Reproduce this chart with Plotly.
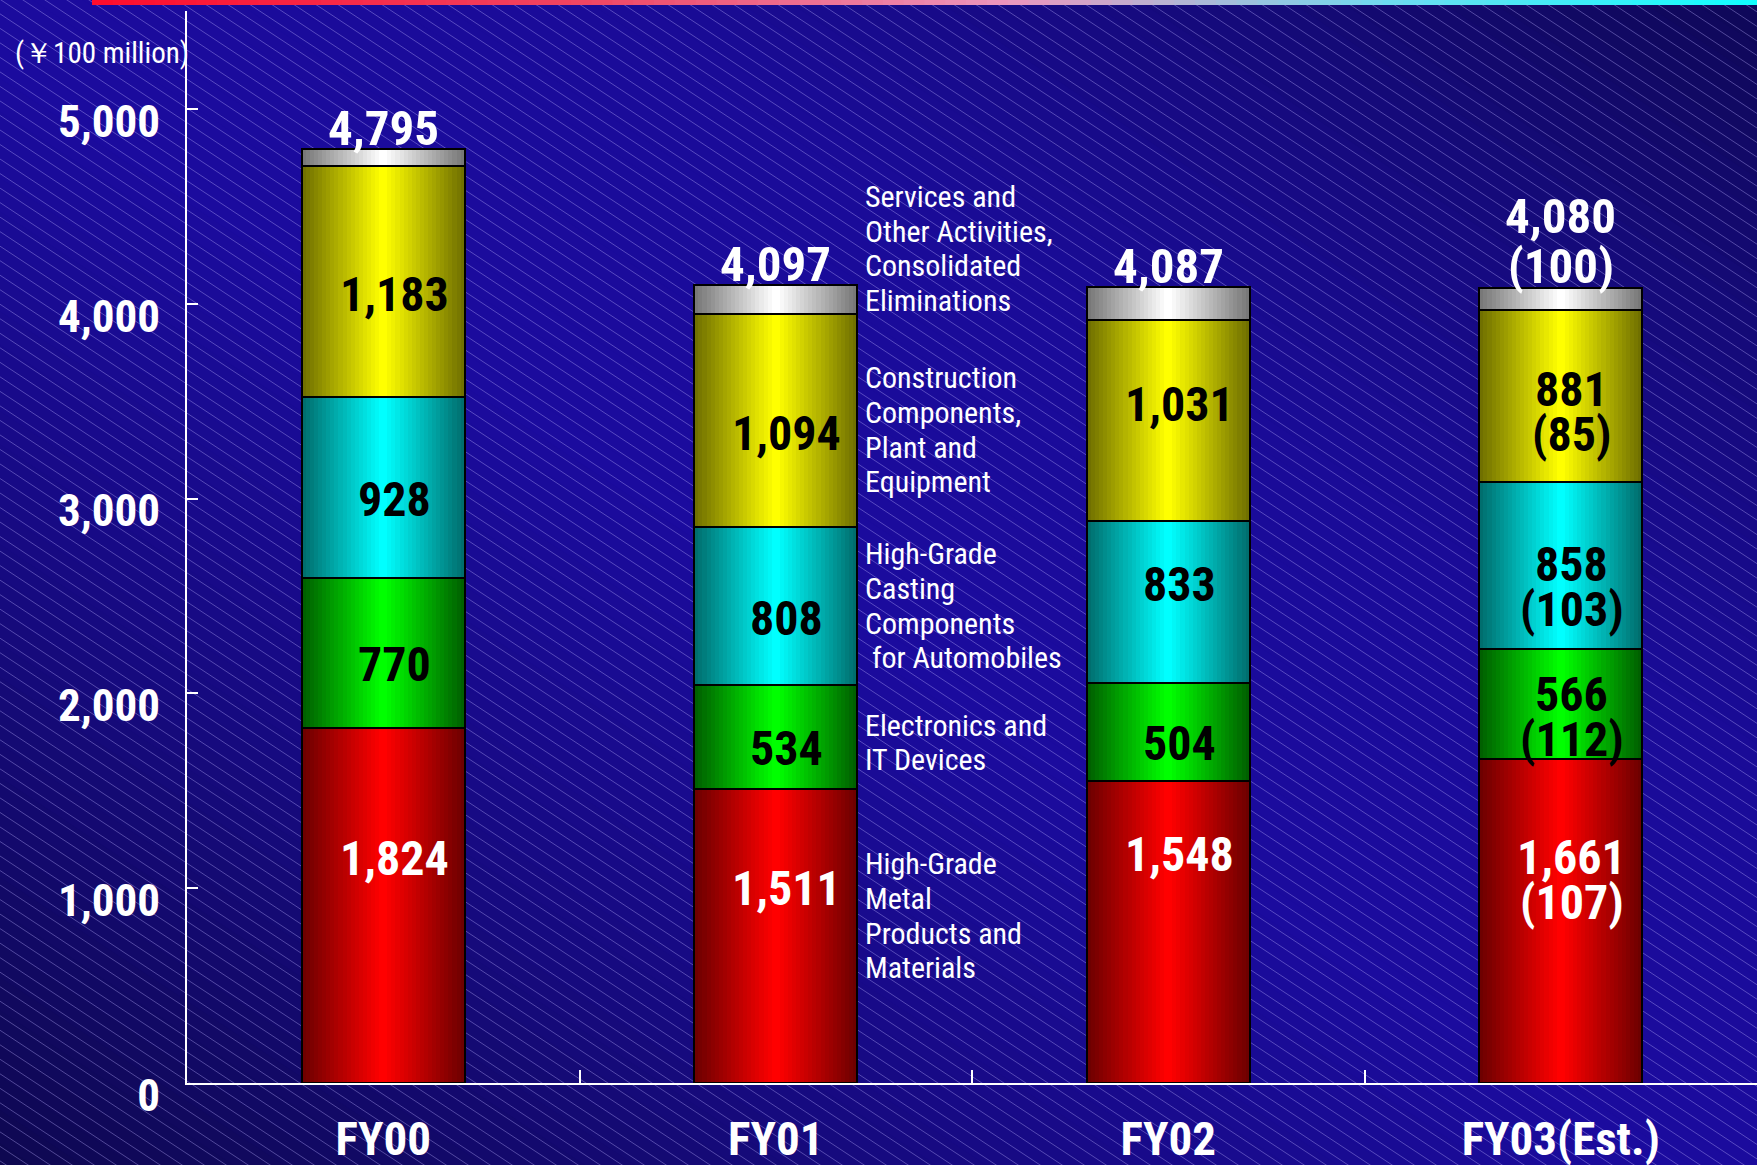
import plotly.graph_objects as go

# ---- data (¥100 million) ----
years = ["FY00", "FY01", "FY02", "FY03(Est.)"]
metal = [1824, 1511, 1548, 1661]          # High-Grade Metal Products and Materials
electronics = [770, 534, 504, 566]        # Electronics and IT Devices
casting = [928, 808, 833, 858]            # High-Grade Casting Components for Automobiles
construction = [1183, 1094, 1031, 881]    # Construction Components, Plant and Equipment
totals = [4795, 4097, 4087, 4080]
# FY03 estimate index vs previous year: metal, electronics, casting, construction, total
fy03_index = [107, 112, 103, 85, 100]

# services / eliminations fill the gap between the segments and the total
services = [t - (a + b + c + d) for t, a, b, c, d in zip(totals, metal, electronics, casting, construction)]

segment_values = [metal, electronics, casting, construction, services]
segment_lines = [
    ["High-Grade", "Metal", "Products and", "Materials"],
    ["Electronics and", "IT Devices"],
    ["High-Grade", "Casting", "Components", " for Automobiles"],
    ["Construction", "Components,", "Plant and", "Equipment"],
    ["Services and", "Other Activities,", "Consolidated", "Eliminations"],
]
y_ticks = [0, 1000, 2000, 3000, 4000, 5000]

# ---- style ----
W, H = 1757, 1165
ML, MR, MT, MB = 187, 0, 11, 82
PW, PH = W - ML - MR, H - MT - MB
Y_MAX = 5503
BAR_W = 0.415
FONT = "Roboto Condensed, Noto Sans Condensed, Liberation Sans Narrow, DejaVu Sans Condensed, sans-serif"

# (edge, centre) colours for the cylinder shading of each segment
seg_colors = [
    ((110, 0, 0), (255, 0, 0)),
    ((0, 96, 0), (0, 255, 0)),
    ((0, 110, 110), (0, 255, 255)),
    ((112, 112, 0), (255, 255, 0)),
    ((120, 120, 120), (255, 255, 255)),
]
label_colors = ["white", "black", "black", "black", "black"]
# vertical nudges (px, positive = down) of the in-bar labels, per segment then per year
label_nudge = [
    [-47, -47, -78, -41],
    [12, 12, 11, 13],
    [12, 13, -18, 21],
    [13, 13, -16, 16],
]
# nudges of the side captions (px, positive = down) against the FY01 segment centres
caption_nudge = [-20, 6, 0, 9, -51]


def px_to_paper(x, y):
    return (x - ML) / PW, (H - MB - y) / PH


def mix(c0, c1, t):
    return "rgb(%d,%d,%d)" % tuple(round(a + (b - a) * t) for a, b in zip(c0, c1))


fig = go.Figure()

# ---- stacked bars drawn as nested strips for a cylindrical shading ----
xs, bases, heights, edge_c, mid_c = [], [], [], [], []
cum = [0] * len(years)
for s, vals in enumerate(segment_values):
    for i, v in enumerate(vals):
        xs.append(years[i])
        bases.append(cum[i])
        heights.append(v)
        edge_c.append(seg_colors[s][0])
        mid_c.append(seg_colors[s][1])
        cum[i] += v

N_STRIPS = 20
for k in range(N_STRIPS):
    frac = 1 - k / N_STRIPS
    t = k / (N_STRIPS - 1)
    fig.add_trace(go.Bar(
        x=xs, y=heights, base=bases,
        width=[BAR_W * frac] * len(xs),
        marker=dict(color=[mix(e, m, t) for e, m in zip(edge_c, mid_c)], line=dict(width=0)),
        showlegend=False, hoverinfo="skip",
    ))
# segment outlines
fig.add_trace(go.Bar(
    x=xs, y=heights, base=bases, width=[BAR_W] * len(xs),
    marker=dict(color="rgba(0,0,0,0)", line=dict(color="black", width=2)),
    showlegend=False, hoverinfo="skip",
))

# ---- background: diagonal blue gradient ----
grad_stops = [
    (0.0, (14, 8, 80)), (0.5, (22, 10, 126)), (0.95, (27, 11, 158)),
    (1.35, (26, 11, 152)), (1.7, (21, 10, 122)), (2.0, (15, 8, 88)),
]


def grad_color(t):
    for (t0, c0), (t1, c1) in zip(grad_stops[:-1], grad_stops[1:]):
        if t <= t1:
            return mix(c0, c1, (t - t0) / (t1 - t0))
    return mix(grad_stops[-1][1], grad_stops[-1][1], 0)


shapes = []
N_BANDS = 70
for b in range(N_BANDS):
    t0 = 2 * b / N_BANDS - 0.01
    t1 = 2 * (b + 1) / N_BANDS + 0.01
    if b == 0:
        t0 = -1
    if b == N_BANDS - 1:
        t1 = 3
    pts = []
    for (x, t) in [(-20, t0), (W + 20, t0), (W + 20, t1), (-20, t1)]:
        y = H * (x / W + 1 - t)
        pts.append(px_to_paper(x, y))
    path = "M %f %f L %f %f L %f %f L %f %f Z" % (pts[0] + pts[1] + pts[2] + pts[3])
    shapes.append(dict(type="path", path=path, xref="paper", yref="paper",
                       fillcolor=grad_color(2 * (b + 0.5) / N_BANDS),
                       line=dict(width=0), layer="below"))

# fine diagonal hatching
SLOPE, STEP = 0.66, 22
segs = []
c = -int(H / SLOPE) - 60
while c < W + 60:
    xa, ya = c - 10 / SLOPE, -10
    xb, yb = c + (H + 10) / SLOPE, H + 10
    pa, pb = px_to_paper(xa, ya), px_to_paper(xb, yb)
    segs.append("M %f %f L %f %f" % (pa + pb))
    c += STEP
shapes.append(dict(type="path", path=" ".join(segs), xref="paper", yref="paper",
                   line=dict(color="rgba(190,180,255,0.38)", width=1), layer="below"))

# coloured rule along the top edge
rule_stops = [(0.0, (255, 12, 44)), (0.3, (240, 70, 100)), (0.55, (236, 150, 190)),
              (0.78, (110, 220, 240)), (1.0, (16, 255, 255))]
X0, X1 = 92, W
N_RULE = 80
for r in range(N_RULE):
    u = (r + 0.5) / N_RULE
    for (u0, c0), (u1, c1) in zip(rule_stops[:-1], rule_stops[1:]):
        if u <= u1:
            col = mix(c0, c1, (u - u0) / (u1 - u0))
            break
    xa = X0 + (X1 - X0) * r / N_RULE
    xb = X0 + (X1 - X0) * (r + 1) / N_RULE + 1
    pa, pb = px_to_paper(xa, 0), px_to_paper(xb, 5)
    shapes.append(dict(type="rect", xref="paper", yref="paper", x0=pa[0], x1=pb[0],
                       y0=pb[1], y1=pa[1], fillcolor=col, line=dict(width=0), layer="below"))

fig.update_layout(shapes=shapes)

# ---- labels ----
def add_lines(x, y, lines, color, size, xshift, center_up, spacing, weight="bold",
              xanchor="center"):
    n = len(lines)
    for j, line in enumerate(lines):
        dy = ((n - 1) / 2 - j) * spacing
        fig.add_annotation(x=x, y=y, xref="x", yref="y", text=line, showarrow=False,
                           xanchor=xanchor, yanchor="middle", xshift=xshift,
                           yshift=center_up + dy,
                           font=dict(family=FONT, size=size, color=color, weight=weight))


cum = [0] * len(years)
for s, vals in enumerate(segment_values[:4]):
    for i, v in enumerate(vals):
        lines = ["{:,}".format(v)]
        if i == 3:
            lines.append("(%d)" % fy03_index[s])
        add_lines(years[i], cum[i] + v / 2, lines, label_colors[s], 48, 11,
                  -label_nudge[s][i], 45)
        cum[i] += v

for i, tot in enumerate(totals):
    lines = ["{:,}".format(tot)]
    if i == 3:
        lines.append("(%d)" % fy03_index[4])
    n = len(lines)
    lift = 20 if n == 1 else 22
    add_lines(years[i], tot, lines, "white", 49, 0, lift + (n - 1) * 50 / 2, 50)

# side captions next to the FY01 column
cum1 = 0
for s, vals in enumerate(segment_values):
    mid = cum1 + vals[1] / 2
    cum1 += vals[1]
    add_lines(1 + BAR_W / 2, mid, segment_lines[s], "white", 30, 6,
              -caption_nudge[s], 34.7, weight="normal", xanchor="left")

ux, uy = px_to_paper(13, 53)
fig.add_annotation(x=ux, y=uy, xref="paper", yref="paper", text="(￥100 million)",
                   showarrow=False, xanchor="left", yanchor="middle",
                   font=dict(family=FONT, size=29, color="white"))

fig.update_layout(
    width=W, height=H, autosize=False,
    margin=dict(l=ML, r=MR, t=MT, b=MB, pad=0, autoexpand=False),
    barmode="overlay", bargap=0,
    paper_bgcolor="#160a80", plot_bgcolor="rgba(0,0,0,0)",
    showlegend=False,
    xaxis=dict(type="category", categoryorder="array", categoryarray=years,
               range=[-0.5, 3.5], showgrid=False, zeroline=False, automargin=False,
               showline=True, linecolor="white", linewidth=2,
               ticks="inside", tickson="boundaries", ticklen=13, tickwidth=1.5,
               tickcolor="white", ticklabelstandoff=14,
               tickfont=dict(family=FONT, size=47, color="white", weight="bold")),
    yaxis=dict(range=[0, Y_MAX], tickvals=y_ticks, tickformat=",",
               showgrid=False, zeroline=False, automargin=False,
               showline=True, linecolor="white", linewidth=2,
               ticks="inside", ticklen=11, tickwidth=1.5, tickcolor="white",
               ticklabelstandoff=16, ticklabelshift=12,
               tickfont=dict(family=FONT, size=45, color="white", weight="bold")),
)

fig.write_html("out.html")
